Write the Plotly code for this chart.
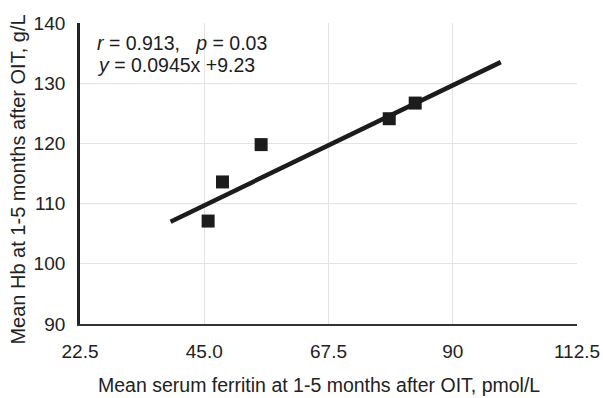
import plotly.graph_objects as go

# Data
ferritin = [45.7, 48.3, 55.3, 78.5, 83.2]
hb = [107.1, 113.6, 119.8, 124.1, 126.7]
fit_x = [38.9, 98.7]
fit_y = [107.0, 133.5]
x_ticks = [22.5, 45.0, 67.5, 90.0, 112.5]
x_tick_labels = ["22.5", "45.0", "67.5", "90", "112.5"]
y_ticks = [90, 100, 110, 120, 130, 140]
y_tick_labels = ["90", "100", "110", "120", "130", "140"]
stat_lines = ["<i>r</i> = 0.913,   <i>p</i> = 0.03", "<i>y</i> = 0.0945x +9.23"]
x_title = "Mean serum ferritin at 1-5 months after OIT, pmol/L"
y_title = "Mean Hb at 1-5 months after OIT, g/L"

FONT = "Arial, Liberation Sans, sans-serif"
DARK = "#1c1c1c"

fig = go.Figure()
fig.add_trace(go.Scatter(x=fit_x, y=fit_y, mode="lines",
                         line=dict(color=DARK, width=4.5), hoverinfo="skip",
                         showlegend=False))
fig.add_trace(go.Scatter(x=ferritin, y=hb, mode="markers",
                         marker=dict(symbol="square", size=13, color=DARK,
                                     line=dict(width=0)),
                         showlegend=False))

for line_text, ypos in zip(stat_lines, [0.934, 0.860]):
    fig.add_annotation(xref="paper", yref="paper", x=0.03, y=ypos,
                       xanchor="left", yanchor="middle", align="left",
                       showarrow=False, text=line_text,
                       font=dict(family=FONT, size=19.5, color=DARK))

# Axis titles
fig.add_annotation(xref="paper", yref="paper", x=0.4804, y=-0.204,
                   xanchor="center", yanchor="middle", showarrow=False,
                   text=x_title, font=dict(family=FONT, size=19.5, color="#222"))
fig.add_annotation(xref="paper", yref="paper", x=-0.1266, y=0.48,
                   xanchor="center", yanchor="middle", showarrow=False,
                   textangle=-90,
                   text=y_title, font=dict(family=FONT, size=20, color="#222"))

fig.update_layout(
    width=603, height=398,
    margin=dict(l=80, r=25.5, t=22.7, b=73.7, autoexpand=False),
    paper_bgcolor="white", plot_bgcolor="white",
    font=dict(family=FONT, size=19, color="#222"),
    xaxis=dict(range=[22.5, 112.5], tickvals=x_ticks, ticktext=x_tick_labels,
               automargin=False,
               showgrid=True, gridcolor="#e3e3e3", gridwidth=1.2,
               zeroline=False, showline=True, linecolor="#333", linewidth=1.6,
               ticks="outside", ticklen=9, tickcolor="rgba(0,0,0,0)",
               tickfont=dict(size=19)),
    yaxis=dict(range=[90, 140], tickvals=y_ticks, ticktext=y_tick_labels,
               automargin=False,
               showgrid=True, gridcolor="#e3e3e3", gridwidth=1.2,
               zeroline=False, showline=True, linecolor="#222", linewidth=2.8,
               ticks="outside", ticklen=8, tickcolor="rgba(0,0,0,0)",
               tickfont=dict(size=19)),
)

fig.write_html("out.html")
